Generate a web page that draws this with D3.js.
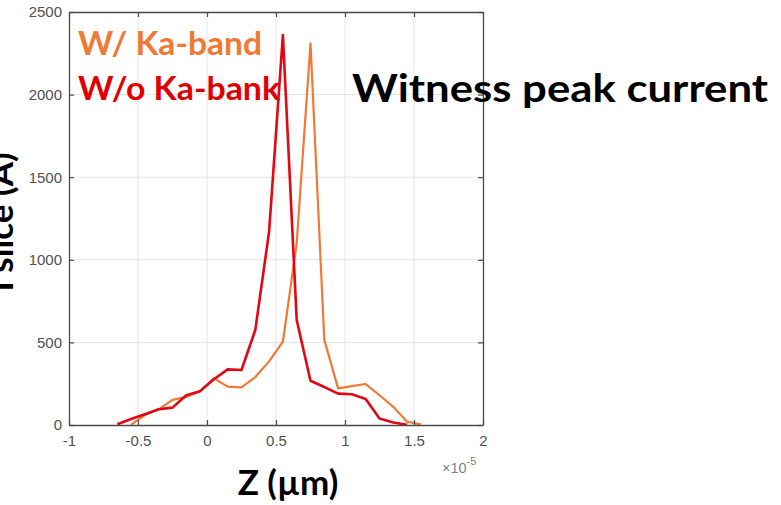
<!DOCTYPE html>
<html>
<head>
<meta charset="utf-8">
<script src="https://cdn.jsdelivr.net/npm/d3@7"></script>
<style>
  body { margin: 0; background: #fff; }
  text { font-family: 'Liberation Sans', Arial, sans-serif; }
  .big { font-family: Lato, 'Open Sans', sans-serif; font-weight: bold; }
</style>
</head>
<body>
<svg id="chart" width="781" height="505"></svg>
<script>
// z positions (x 1e-5) and slice current (A)
const zTicks = [-1, -0.5, 0, 0.5, 1, 1.5, 2];
const currentTicks = [0, 500, 1000, 1500, 2000, 2500];

const zWithKa = [-0.55, -0.45, -0.35, -0.25, -0.15, -0.05, 0.05, 0.15, 0.25, 0.35, 0.45,
  0.55, 0.65, 0.75, 0.85, 0.95, 1.05, 1.15, 1.25, 1.35, 1.45, 1.55];
const iWithKa = [2, 60, 95, 152, 170, 205, 283, 232, 228, 290, 385,
  504, 1100, 2310, 515, 222, 235, 248, 180, 110, 20, 4];

const zNoKa = [-0.65, -0.55, -0.45, -0.35, -0.25, -0.15, -0.05, 0.05, 0.15, 0.25, 0.35,
  0.45, 0.55, 0.65, 0.75, 0.85, 0.95, 1.05, 1.15, 1.25, 1.35, 1.45];
const iNoKa = [5, 36, 65, 95, 105, 180, 205, 277, 337, 333, 575,
  1170, 2360, 636, 268, 230, 190, 186, 158, 40, 15, 2];

const seriesNames = ['W/ Ka-band', 'W/o Ka-bank'];
const seriesColors = ['#f07a35', '#e30613'];

const svg = d3.select('#chart');
const box = { left: 69, top: 12, right: 483, bottom: 425 };

const x = d3.scaleLinear().domain([-1, 2]).range([box.left, box.right]);
const y = d3.scaleLinear().domain([0, 2500]).range([box.bottom, box.top]);

// grid
const grid = svg.append('g').attr('stroke', '#e4e4e4').attr('stroke-width', 1);
grid.selectAll('line.gx').data(zTicks.slice(1, -1)).enter()
  .append('line')
  .attr('x1', (d) => x(d)).attr('x2', (d) => x(d))
  .attr('y1', box.top).attr('y2', box.bottom);
grid.selectAll('line.gy').data(currentTicks.slice(1, -1)).enter()
  .append('line')
  .attr('x1', box.left).attr('x2', box.right)
  .attr('y1', (d) => y(d)).attr('y2', (d) => y(d));

// curves
const line = d3.line().x((d) => x(d[0])).y((d) => y(d[1]));
const curves = [
  d3.zip(zWithKa, iWithKa),
  d3.zip(zNoKa, iNoKa),
];
svg.append('g').selectAll('path').data(curves).enter()
  .append('path')
  .attr('d', line)
  .attr('fill', 'none')
  .attr('stroke', (d, i) => seriesColors[i])
  .attr('stroke-width', (d, i) => (i === 0 ? 2.2 : 2.6))
  .attr('stroke-linejoin', 'round');

// axes, MATLAB style: ticks inside, box on all sides
const axisColor = '#4a4a4a';
const plain = (d) => String(d);
const styleAxis = (g) => {
  g.select('.domain').attr('stroke', axisColor).attr('stroke-width', 1.3);
  g.selectAll('.tick line').attr('stroke', axisColor).attr('stroke-width', 1.2);
  g.selectAll('.tick text').attr('fill', '#505050').style('font-size', '15px')
    .style('font-family', "'Liberation Sans', Arial, sans-serif");
};

svg.append('g').attr('transform', `translate(0,${box.bottom})`)
  .call(d3.axisBottom(x).tickValues(zTicks).tickFormat(plain).tickSizeInner(-5).tickSizeOuter(0).tickPadding(10))
  .call(styleAxis);
svg.append('g').attr('transform', `translate(${box.left},0)`)
  .call(d3.axisLeft(y).tickValues(currentTicks).tickFormat(plain).tickSizeInner(-5).tickSizeOuter(0).tickPadding(7))
  .call(styleAxis);
svg.append('g').attr('transform', `translate(0,${box.top})`)
  .call(d3.axisTop(x).tickValues(zTicks).tickFormat('').tickSizeInner(-5).tickSizeOuter(0))
  .call(styleAxis);
svg.append('g').attr('transform', `translate(${box.right},0)`)
  .call(d3.axisRight(y).tickValues(currentTicks).tickFormat('').tickSizeInner(-5).tickSizeOuter(0))
  .call(styleAxis);

// exponent label
const expo = svg.append('text').attr('x', 442).attr('y', 473)
  .attr('fill', '#808080').style('font-size', '14.5px');
expo.append('tspan').text('\u00d710');
expo.append('tspan').attr('dy', -8).style('font-size', '11px').text('-5');

// legend-like labels
svg.append('text').attr('class', 'big')
  .attr('x', 78).attr('y', 55)
  .attr('fill', seriesColors[0])
  .style('font-size', '32px')
  .attr('textLength', 184).attr('lengthAdjust', 'spacingAndGlyphs')
  .text(seriesNames[0]);
svg.append('text').attr('class', 'big')
  .attr('x', 78).attr('y', 100)
  .attr('fill', '#e00000')
  .style('font-size', '33px')
  .attr('textLength', 202).attr('lengthAdjust', 'spacingAndGlyphs')
  .text(seriesNames[1]);

// title on the right
svg.append('text').attr('class', 'big')
  .attr('x', 352).attr('y', 102)
  .attr('fill', '#000')
  .style('font-size', '39px')
  .attr('textLength', 416).attr('lengthAdjust', 'spacingAndGlyphs')
  .text('Witness peak current');

// axis titles
svg.append('text').attr('class', 'big')
  .attr('x', 288).attr('y', 495)
  .attr('text-anchor', 'middle')
  .attr('fill', '#000')
  .style('font-size', '35px')
  .text('Z (\u00b5m)');

// y title sits partly off the left edge, as in the source figure
svg.append('text').attr('class', 'big')
  .attr('transform', 'translate(13,222) rotate(-90)')
  .attr('text-anchor', 'middle')
  .attr('fill', '#000')
  .style('font-size', '35px')
  .text('I slice (A)');
</script>
</body>
</html>
